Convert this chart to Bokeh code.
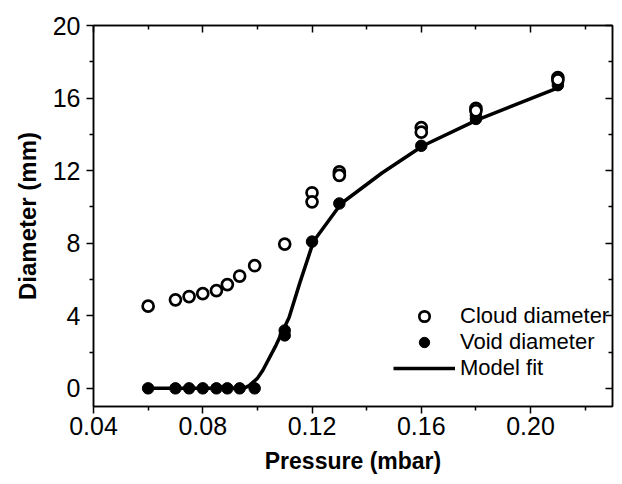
from bokeh.plotting import figure
from bokeh.models import (Range1d, LinearAxis, FixedTicker, PrintfTickFormatter,
                          Legend, LegendItem, Title, CustomLabelingPolicy)
from bokeh.embed import file_html
from bokeh.resources import INLINE

# ---- data ----
cloud_x = [0.060, 0.070, 0.075, 0.080, 0.085, 0.089, 0.0935, 0.099, 0.110,
           0.120, 0.120, 0.130, 0.130, 0.160, 0.160, 0.180, 0.180, 0.210, 0.210]
cloud_y = [4.53, 4.88, 5.06, 5.22, 5.39, 5.72, 6.19, 6.76, 7.95,
           10.78, 10.28, 11.93, 11.74, 14.37, 14.12, 15.43, 15.30, 17.13, 17.00]

void_x = [0.060, 0.070, 0.075, 0.080, 0.085, 0.089, 0.0935, 0.099, 0.110,
          0.110, 0.120, 0.130, 0.160, 0.180, 0.180, 0.210]
void_y = [0, 0, 0, 0, 0, 0, 0, 0, 3.19,
          2.92, 8.09, 10.19, 13.37, 14.85, 15.05, 16.71]

fit_x = [0.060, 0.095, 0.097, 0.100, 0.102, 0.1068, 0.1116, 0.1155, 0.1190,
         0.1205, 0.1307, 0.1456, 0.1606, 0.1805, 0.2107]
fit_y = [0.0, 0.0, 0.15, 0.55, 1.0, 2.37, 3.9, 5.8, 7.4,
         8.09, 10.19, 11.87, 13.37, 14.8, 16.6]

x_major = [0.04, 0.08, 0.12, 0.16, 0.20]
x_minor = [0.06, 0.10, 0.14, 0.18, 0.22]
y_major = [0, 4, 8, 12, 16, 20]
y_minor = [2, 6, 10, 14, 18]

x_label = "Pressure (mbar)"
y_label = "Diameter (mm)"
legend_labels = ["Cloud diameter", "Void diameter", "Model fit"]

FONT = "Liberation Sans"

p = figure(width=614, height=476, output_backend="svg", toolbar_location=None,
           x_range=Range1d(0.04, 0.23), y_range=Range1d(-1, 20),
           min_border_left=93, min_border_top=25, min_border_bottom=68,
           min_border_right=2, background_fill_color="white",
           border_fill_color="white", x_axis_location=None, y_axis_location=None)
p.grid.visible = False
p.outline_line_color = "black"
p.outline_line_width = 1.5

xt = FixedTicker(ticks=x_major, minor_ticks=x_minor)
yt = FixedTicker(ticks=y_major, minor_ticks=y_minor)

no_labels = CustomLabelingPolicy(code="""
    for (const i of indices) { indices.unset(i) }
    return indices
""")

def style(ax, labels):
    ax.axis_line_width = 1.5
    ax.major_tick_line_width = 1.5
    ax.minor_tick_line_width = 1.5
    if labels:
        ax.major_tick_out = 7
        ax.major_tick_in = 0
        ax.minor_tick_out = 4
        ax.minor_tick_in = 0
        ax.major_label_text_font = FONT
        ax.major_label_text_font_size = "25px"
        ax.major_label_text_color = "black"
        ax.axis_label_text_font = FONT
        ax.axis_label_text_font_size = "23px"
        ax.axis_label_text_font_style = "bold"
        ax.axis_label_text_color = "black"
    else:
        ax.major_tick_out = 0
        ax.major_tick_in = 7
        ax.minor_tick_out = 0
        ax.minor_tick_in = 4
        ax.major_label_policy = no_labels
        ax.major_label_text_font_size = "0px"
        ax.major_label_standoff = 0

bottom = LinearAxis(ticker=xt, formatter=PrintfTickFormatter(format="%.2f"),
                    axis_label=x_label)
style(bottom, True)
bottom.major_label_standoff = 3
bottom.axis_label_standoff = 10
left = LinearAxis(ticker=yt, formatter=PrintfTickFormatter(format="%d"))
style(left, True)
left.major_label_standoff = 6
top = LinearAxis(ticker=xt)
style(top, False)
right = LinearAxis(ticker=yt)
style(right, False)
p.add_layout(bottom, "below")
p.add_layout(left, "left")
p.add_layout(top, "above")
p.add_layout(right, "right")

# y-axis title, shifted (as in the reference) a little below the frame's middle
ytitle = Title(text=y_label, align="center", offset=-60, standoff=18,
               text_font=FONT, text_font_size="24px", text_font_style="bold",
               text_color="black")
p.add_layout(ytitle, "left")

r_fit = p.line(fit_x, fit_y, line_color="black", line_width=3.5)
r_void = p.scatter(void_x, void_y, marker="circle", size=11.5,
                   fill_color="black", line_color="black")
r_cloud = p.scatter(cloud_x, cloud_y, marker="circle", size=11,
                    fill_color="white", line_color="black", line_width=2.7)

legend = Legend(items=[LegendItem(label=legend_labels[0], renderers=[r_cloud]),
                       LegendItem(label=legend_labels[1], renderers=[r_void]),
                       LegendItem(label=legend_labels[2], renderers=[r_fit])],
                location=(300, 25), orientation="vertical",
                glyph_width=62, glyph_height=26, label_height=26,
                label_standoff=5, spacing=0, padding=0, margin=0,
                border_line_color=None, background_fill_alpha=0,
                label_text_font=FONT, label_text_font_size="22px",
                label_text_color="black")
p.add_layout(legend, "center")

open("out.html", "w").write(file_html(p, INLINE))
